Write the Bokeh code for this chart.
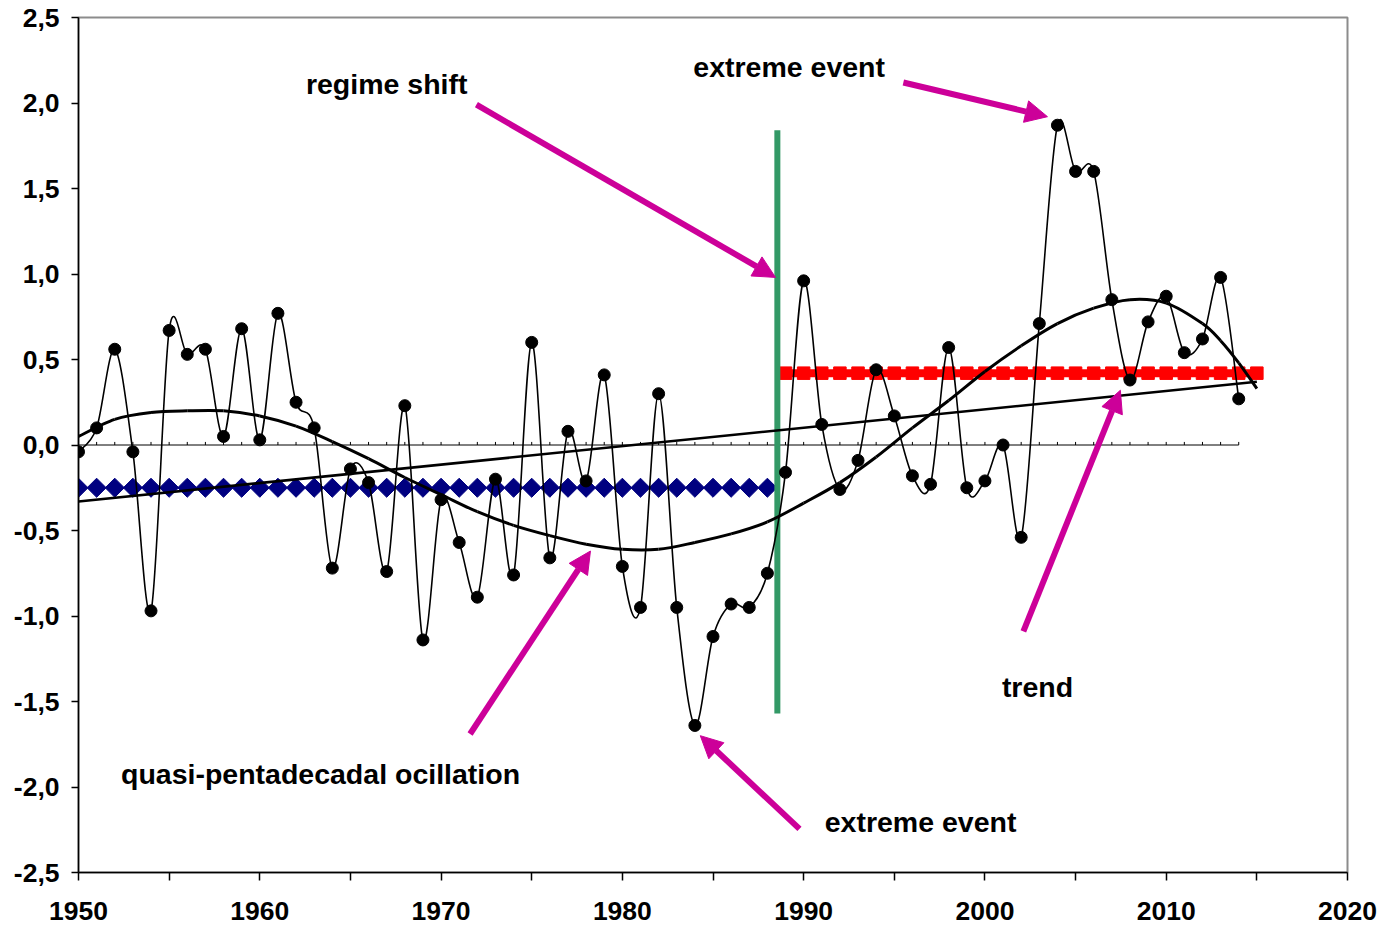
import numpy as np
from bokeh.plotting import figure
from bokeh.models import FixedTicker, Arrow, NormalHead, ColumnDataSource
from bokeh.core.properties import value
from bokeh.embed import file_html
from bokeh.resources import INLINE

# ---------------- data ----------------
years = list(range(1950, 2015))
index_values = [
    -0.04, 0.10, 0.56, -0.04, -0.97, 0.67, 0.53, 0.56, 0.05, 0.68,   # 1950-1959
    0.03, 0.77, 0.25, 0.10, -0.72, -0.14, -0.22, -0.74, 0.23, -1.14,  # 1960-1969
    -0.32, -0.57, -0.89, -0.20, -0.76, 0.60, -0.66, 0.08, -0.21, 0.41, # 1970-1979
    -0.71, -0.95, 0.30, -0.95, -1.64, -1.12, -0.93, -0.95, -0.75, -0.16, # 1980-1989
    0.96, 0.12, -0.26, -0.09, 0.44, 0.17, -0.18, -0.23, 0.57, -0.25,  # 1990-1999
    -0.21, 0.00, -0.54, 0.71, 1.87, 1.60, 1.60, 0.85, 0.38, 0.72,     # 2000-2009
    0.87, 0.54, 0.62, 0.98, 0.27,                                      # 2010-2014
]

poly_years = [1950, 1952, 1954, 1956, 1958, 1960, 1962, 1964, 1966, 1968,
              1970, 1972, 1974, 1976, 1978, 1980, 1982, 1984, 1986, 1988,
              1990, 1992, 1994, 1996, 1998, 2000, 2002, 2004, 2006, 2008,
              2010, 2012, 2013, 2014, 2015]
poly_values = [0.05, 0.15, 0.19, 0.20, 0.20, 0.17, 0.11, 0.02, -0.08, -0.19,
               -0.29, -0.39, -0.47, -0.53, -0.58, -0.61, -0.61, -0.57, -0.52, -0.45,
               -0.34, -0.22, -0.07, 0.10, 0.26, 0.43, 0.58, 0.71, 0.80, 0.85,
               0.83, 0.71, 0.61, 0.48, 0.33]

trend_years = [1950, 2015]
trend_values = [-0.33, 0.37]

regime1_years = list(range(1950, 1989))
regime1_level = -0.25
regime2_years = list(range(1989, 2016))
regime2_level = 0.42

shift_year = 1988.55
shift_span = [-1.57, 1.84]

zero_years = list(range(1950, 2015))

x_ticks = [1950, 1960, 1970, 1980, 1990, 2000, 2010, 2020]
x_minor = [1955, 1965, 1975, 1985, 1995, 2005, 2015]
y_ticks = [-2.5, -2.0, -1.5, -1.0, -0.5, 0.0, 0.5, 1.0, 1.5, 2.0, 2.5]
y_labels = ["-2,5", "-2,0", "-1,5", "-1,0", "-0,5", "0,0", "0,5", "1,0", "1,5", "2,0", "2,5"]

labels = ["regime shift", "extreme event", "quasi-pentadecadal ocillation", "extreme event", "trend"]

# ---------------- styles / positions ----------------
FONT = "Liberation Sans"
MAG = "#CC0099"
label_x = [1967.0, 1989.2, 1963.35, 1996.45, 2002.9]
label_y = [2.112, 2.212, -1.925, -2.205, -1.415]
arrows = [  # (x_start, y_start, x_end, y_end)
    (1971.95, 1.99, 1988.45, 0.98),
    (1995.5, 2.12, 2003.45, 1.92),
    (1971.6, -1.69, 1978.24, -0.62),
    (1989.77, -2.245, 1984.3, -1.70),
    (2002.12, -1.09, 2007.47, 0.32),
]


def bezier_segments(xs, ys, t=0.16):
    xs = np.asarray(xs, float)
    ys = np.asarray(ys, float)
    n = len(xs)
    px = np.concatenate([[xs[0]], xs, [xs[-1]]])
    py = np.concatenate([[ys[0]], ys, [ys[-1]]])
    x0, y0 = xs[:-1], ys[:-1]
    x1, y1 = xs[1:], ys[1:]
    cx0 = x0 + (px[2:n + 1] - px[0:n - 1]) * t
    cy0 = y0 + (py[2:n + 1] - py[0:n - 1]) * t
    cx1 = x1 - (px[3:n + 2] - px[1:n]) * t
    cy1 = y1 - (py[3:n + 2] - py[1:n]) * t
    return dict(x0=x0, y0=y0, x1=x1, y1=y1, cx0=cx0, cy0=cy0, cx1=cx1, cy1=cy1)


p = figure(width=1383, height=928, x_range=(1950, 2020), y_range=(-2.5, 2.5),
           output_backend="svg", toolbar_location=None,
           min_border_left=78, min_border_right=36, min_border_top=17, min_border_bottom=56)
p.background_fill_color = "white"
p.border_fill_color = "white"
p.outline_line_color = "#8c8c8c"
p.outline_line_width = 2
p.xgrid.visible = False
p.ygrid.visible = False

# axes
xa = p.xaxis[0]
xa.ticker = FixedTicker(ticks=x_ticks, minor_ticks=x_minor)
xa.major_tick_out = 8
xa.major_tick_in = 0
xa.minor_tick_out = 8
xa.minor_tick_in = 0
xa.major_label_standoff = 21
ya = p.yaxis[0]
ya.ticker = FixedTicker(ticks=y_ticks, minor_ticks=[])
ya.major_label_overrides = {t: l for t, l in zip(y_ticks, y_labels)}
ya.major_tick_out = 7
ya.major_tick_in = 0
ya.major_label_standoff = 12
for ax in (xa, ya):
    ax.axis_line_color = "black"
    ax.axis_line_width = 1.5
    ax.major_tick_line_color = "black"
    ax.major_tick_line_width = 1.5
    ax.minor_tick_line_color = "black"
    ax.minor_tick_line_width = 1.5
    ax.major_label_text_font = FONT
    ax.major_label_text_font_style = "bold"
    ax.major_label_text_font_size = "26.5px"
    ax.major_label_text_color = "black"

# zero line with small year ticks
p.line([zero_years[0], zero_years[-1]], [0, 0], line_color="black", line_width=1)
p.segment(x0=zero_years, y0=[0] * len(zero_years), x1=zero_years, y1=[0.018] * len(zero_years),
          line_color="black", line_width=1)

# regime levels
p.scatter(regime1_years, [regime1_level] * len(regime1_years), marker="square", size=13.5,
          angle=np.pi / 4, fill_color="#000080", line_color="#000080")
p.line(regime2_years, [regime2_level] * len(regime2_years), line_color="#FF0000", line_width=8)
p.scatter(regime2_years, [regime2_level] * len(regime2_years), marker="square", size=12.5,
          fill_color="#FF0000", line_color="#FF0000")

# regime shift line
p.line([shift_year, shift_year], shift_span, line_color="#339966", line_width=6)

# smoothed index line + points
p.bezier(source=ColumnDataSource(bezier_segments(years, index_values)),
         x0="x0", y0="y0", x1="x1", y1="y1", cx0="cx0", cy0="cy0", cx1="cx1", cy1="cy1",
         line_color="black", line_width=1.6)
p.scatter(years, index_values, marker="circle", size=12, fill_color="black", line_color="black")

# linear trend
p.line(trend_years, trend_values, line_color="black", line_width=2.6)

# polynomial (oscillation) curve
p.bezier(source=ColumnDataSource(bezier_segments(poly_years, poly_values)),
         x0="x0", y0="y0", x1="x1", y1="y1", cx0="cx0", cy0="cy0", cx1="cx1", cy1="cy1",
         line_color="black", line_width=3)

# arrows
for xs_, ys_, xe_, ye_ in arrows:
    p.add_layout(Arrow(end=NormalHead(size=22, fill_color=MAG, line_color=MAG, line_width=1),
                       x_start=xs_, y_start=ys_, x_end=xe_, y_end=ye_,
                       line_color=MAG, line_width=6))

# labels
p.text(x=label_x, y=label_y, text=labels, text_font=value(FONT), text_font_style="bold",
       text_font_size="28.5px", text_align="center", text_baseline="middle", text_color="black")

open("out.html", "w").write(file_html(p, INLINE))
